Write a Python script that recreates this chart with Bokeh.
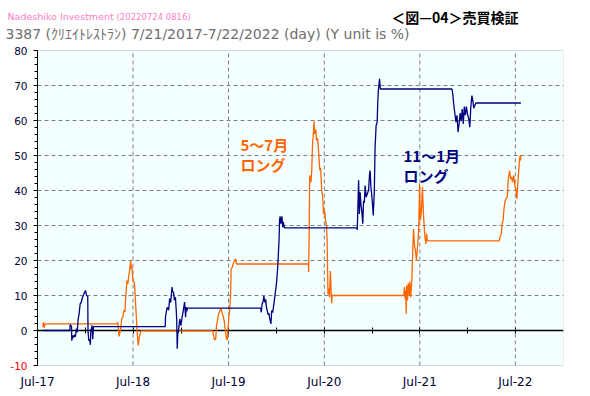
import pandas as pd
from bokeh.plotting import figure
from bokeh.models import (Range1d, DatetimeAxis, FixedTicker, SingleIntervalTicker,
                          DatetimeTickFormatter, Label, ColumnDataSource, BoxAnnotation)
from bokeh.embed import file_html
from bokeh.resources import INLINE

# ---------------- data ----------------
blue_dates = [
    "2017-07-21", "2017-11-01", "2017-11-03", "2017-11-08", "2017-11-09", "2017-11-13",
    "2017-11-16", "2017-11-20", "2017-11-23", "2017-11-26", "2017-11-30", "2017-12-03",
    "2017-12-07", "2017-12-11", "2017-12-15", "2017-12-20", "2017-12-24", "2017-12-27",
    "2018-01-01", "2018-01-04", "2018-01-09", "2018-01-10", "2018-01-13", "2018-01-16",
    "2018-01-19", "2018-01-21", "2018-01-23", "2018-01-25", "2018-01-28", "2018-01-31",
    "2018-11-01", "2018-11-02", "2018-11-07", "2018-11-10", "2018-11-14", "2018-11-18",
    "2018-11-22", "2018-11-27", "2018-11-30", "2018-12-03", "2018-12-06", "2018-12-10",
    "2018-12-13", "2018-12-15", "2018-12-17", "2018-12-19", "2018-12-21", "2018-12-27",
    "2018-12-31", "2019-01-05", "2019-01-08", "2019-01-14", "2019-01-18", "2019-01-20",
    "2019-01-23", "2019-01-25",
    "2019-11-01", "2019-11-03", "2019-11-06", "2019-11-10", "2019-11-13", "2019-11-17",
    "2019-11-20", "2019-11-23", "2019-11-26", "2019-11-29", "2019-12-02", "2019-12-05",
    "2019-12-10", "2019-12-13", "2019-12-17", "2019-12-23", "2019-12-27", "2019-12-31",
    "2020-01-05", "2020-01-08", "2020-01-10", "2020-01-12", "2020-01-14", "2020-01-17",
    "2020-01-21", "2020-01-24", "2020-01-26", "2020-01-31",
    "2020-11-02", "2020-11-04", "2020-11-09", "2020-11-12", "2020-11-15", "2020-11-18",
    "2020-11-21", "2020-11-25", "2020-11-28", "2020-12-01", "2020-12-04", "2020-12-08",
    "2020-12-12", "2020-12-17", "2020-12-21", "2020-12-23", "2020-12-26", "2020-12-29",
    "2021-01-02", "2021-01-04", "2021-01-08", "2021-01-11", "2021-01-15", "2021-01-19",
    "2021-01-21", "2021-01-24", "2021-01-28", "2021-01-31",
    "2021-11-01", "2021-11-04", "2021-11-07", "2021-11-12", "2021-11-16", "2021-11-20",
    "2021-11-24", "2021-11-28", "2021-12-02", "2021-12-06", "2021-12-10", "2021-12-14",
    "2021-12-18", "2021-12-22", "2021-12-26", "2021-12-30", "2022-01-04", "2022-01-08",
    "2022-01-12", "2022-01-16", "2022-01-19", "2022-01-23", "2022-01-31", "2022-07-22",
]
blue_values = [
    0.0, 0.0, 1.7, 1.2, -2.9, -1.4,
    -2.0, -1.2, -1.8, 0.5, -0.5, 3.0,
    4.8, 7.6, 8.0, 9.5, 10.2, 10.8,
    11.4, 10.0, 9.8, 0.0, -2.9, -2.5,
    -4.1, 0.5, -0.1, 1.5, -2.5, 1.1,
    1.1, 3.8, 6.2, 6.6, 5.8, 9.1,
    8.0, 12.4, 11.0, 10.9, 8.6, 9.5,
    6.0, 3.0, -5.2, -1.0, -0.5, 3.3,
    1.4, 4.0, 5.2, 8.1, 3.8, 6.7,
    5.5, 6.4,
    6.4, 5.2, 7.5, 8.2, 9.8, 8.0,
    8.9, 6.5, 5.7, 4.5, 5.0, 3.6,
    1.9, 5.7, 5.2, 8.6, 10.9, 13.3,
    18.1, 22.9, 25.7, 31.4, 32.6, 30.5,
    32.6, 29.5, 31.0, 29.3,
    29.3, 28.8, 42.9, 33.3, 39.5, 36.0,
    34.3, 30.5, 37.1, 36.5, 41.4, 38.1,
    39.0, 40.0, 44.8, 45.7, 41.0, 39.0,
    35.2, 32.9, 39.5, 52.4, 58.6, 59.5,
    64.8, 69.0, 71.9, 69.0,
    69.0, 67.5, 65.0, 61.9, 59.5, 61.5,
    56.7, 59.0, 62.1, 59.8, 63.3, 59.0,
    64.0, 61.5, 64.0, 61.9, 60.5, 58.1,
    64.0, 67.1, 66.0, 63.5, 65.0, 65.0,
]

orange_dates = [
    "2017-07-21", "2017-07-24", "2017-07-26", "2017-07-31",
    "2018-05-01", "2018-05-03", "2018-05-05", "2018-05-09", "2018-05-12", "2018-05-15",
    "2018-05-19", "2018-05-23", "2018-05-27", "2018-05-31", "2018-06-04", "2018-06-08",
    "2018-06-11", "2018-06-15", "2018-06-18", "2018-06-20", "2018-06-22", "2018-06-24",
    "2018-06-26", "2018-06-29", "2018-07-02", "2018-07-06", "2018-07-09", "2018-07-13",
    "2018-07-16", "2018-07-19", "2018-07-21", "2018-07-25", "2018-07-31",
    "2019-05-01", "2019-05-04", "2019-05-08", "2019-05-13", "2019-05-16", "2019-05-20",
    "2019-05-24", "2019-05-28", "2019-06-01", "2019-06-04", "2019-06-07", "2019-06-11",
    "2019-06-15", "2019-06-19", "2019-06-23", "2019-06-26", "2019-06-29", "2019-07-02",
    "2019-07-05", "2019-07-09", "2019-07-11", "2019-07-15", "2019-07-20", "2019-07-25",
    "2019-07-28", "2019-07-31",
    "2020-05-01", "2020-05-02", "2020-05-04", "2020-05-06", "2020-05-09", "2020-05-11",
    "2020-05-14", "2020-05-17", "2020-05-21", "2020-05-23", "2020-05-25", "2020-05-29",
    "2020-06-01", "2020-06-05", "2020-06-09", "2020-06-12", "2020-06-14", "2020-06-17",
    "2020-06-21", "2020-06-25", "2020-06-28", "2020-07-02", "2020-07-06", "2020-07-10",
    "2020-07-12", "2020-07-15", "2020-07-17", "2020-07-21", "2020-07-24", "2020-07-26",
    "2020-07-29", "2020-07-31",
    "2021-05-01", "2021-05-03", "2021-05-06", "2021-05-08", "2021-05-10", "2021-05-12",
    "2021-05-15", "2021-05-18", "2021-05-21", "2021-05-24", "2021-05-27", "2021-05-31",
    "2021-06-02", "2021-06-04", "2021-06-07", "2021-06-11", "2021-06-14", "2021-06-18",
    "2021-06-23", "2021-06-27", "2021-06-30", "2021-07-03", "2021-07-07", "2021-07-10",
    "2021-07-11", "2021-07-15", "2021-07-20", "2021-07-24", "2021-07-27", "2021-07-29",
    "2021-07-31",
    "2022-05-01", "2022-05-03", "2022-05-08", "2022-05-12", "2022-05-15", "2022-05-18",
    "2022-05-22", "2022-05-26", "2022-05-31", "2022-06-04", "2022-06-09", "2022-06-13",
    "2022-06-17", "2022-06-20", "2022-06-25", "2022-06-29", "2022-07-03", "2022-07-07",
    "2022-07-10", "2022-07-13", "2022-07-16", "2022-07-19", "2022-07-21", "2022-07-22",
]
orange_values = [
    1.0, 2.4, 0.8, 1.9,
    1.9, 2.4, 1.4, -1.7, -0.5, 0.5,
    3.3, 3.8, 5.7, 5.4, 10.5, 14.3,
    13.3, 15.7, 17.1, 18.6, 20.0, 17.6,
    18.6, 15.7, 13.8, 13.8, 10.5, 4.8,
    0.5, -2.4, -4.3, -1.9, -0.1,
    -0.1, -1.0, -2.7, -2.5, 1.4, 3.0,
    4.8, 5.5, 6.2, 5.9, 4.8, 4.0,
    2.5, 0.0, -2.4, -2.7, 0.5, 3.8,
    5.5, 10.5, 17.6, 18.0, 19.3, 20.0,
    20.5, 19.0,
    19.0, 16.7, 26.7, 43.8, 44.3, 42.4,
    45.7, 53.3, 57.1, 59.8, 56.2, 57.5,
    54.3, 55.0, 51.4, 47.6, 45.7, 46.5,
    40.0, 38.0, 33.3, 34.3, 31.4, 29.5,
    24.8, 10.3, 12.0, 9.5, 17.0, 14.0,
    7.8, 10.0,
    10.0, 12.4, 9.0, 11.4, 4.8, 12.9,
    8.6, 13.5, 10.0, 14.0, 9.5, 13.8,
    18.0, 22.9, 29.0, 24.0, 23.0, 20.0,
    24.7, 29.5, 41.9, 31.5, 34.0, 39.5,
    41.0, 33.0, 27.1, 24.7, 27.6, 26.0,
    25.6,
    25.6, 26.7, 27.6, 30.5, 31.4, 34.3,
    36.7, 37.6, 38.1, 43.3, 45.7, 43.3,
    43.8, 42.4, 44.3, 41.4, 40.5, 37.6,
    41.4, 44.8, 47.6, 50.0, 48.6, 50.0,
]

x_major_dates = ["2017-07-01", "2018-07-01", "2019-07-01", "2020-07-01", "2021-07-01", "2022-07-01"]
x_minor_dates = ["2018-01-01", "2019-01-01", "2020-01-01", "2021-01-01", "2022-01-01"]
x_start, x_end = "2017-07-01", "2023-01-01"
y_start, y_end = -10, 80
y_grid_values = [10, 20, 30, 40, 50, 60, 70]

title_1 = "Nadeshiko Investment"
title_1b = "(20220724 0816)"
title_2 = "3387 (ｸﾘｴｲﾄﾚｽﾄﾗﾝ) 7/21/2017-7/22/2022 (day)  (Y unit is %)"
title_r = "＜図—04＞売買検証"
note_orange = ["5〜7月", "ロング"]
note_blue = ["11〜1月", "ロング"]

# ---------------- layout ----------------
W, H = 590, 396
FL, FR, FT, FB = 37, 563, 50, 365   # page pixels of the chart box
FB_EXT = 373                        # frame extends a little below the box


def ms(d):
    return pd.Timestamp(d).value / 1e6


x0, x1 = ms(x_start), ms(x_end)
major_ms = [ms(d) for d in x_major_dates]
minor_ms = [ms(d) for d in x_minor_dates]

# the frame covers the title area too, so that texts there are not clipped
xr0 = x0 - FL / (FR - FL) * (x1 - x0)
yr1 = y_end + FT / (FB - FT) * (y_end - y_start)
yr0 = y_start - (FB_EXT - FB) / (FB - FT) * (y_end - y_start)


def xd(px):
    return x0 + (px - FL) / (FR - FL) * (x1 - x0)


def yd(py):
    return y_end - (py - FT) / (FB - FT) * (y_end - y_start)


p = figure(width=W, height=H, x_axis_type="datetime",
           x_range=Range1d(xr0, x1), y_range=Range1d(yr0, yr1),
           output_backend="svg", toolbar_location=None,
           min_border_left=0, min_border_right=W - FR, min_border_top=0,
           min_border_bottom=H - FB_EXT,
           background_fill_color="white", border_fill_color="white",
           outline_line_color=None)
p.xgrid.visible = False
p.ygrid.visible = False

# chart box
p.add_layout(BoxAnnotation(left=x0, right=x1, bottom=y_start, top=y_end,
                           fill_color="#F4FFFF", fill_alpha=1.0,
                           line_color="#808080", line_width=1, level="image"))

fmt = DatetimeTickFormatter(milliseconds="%b-%y", seconds="%b-%y", minsec="%b-%y",
                            minutes="%b-%y", hourmin="%b-%y", hours="%b-%y", days="%b-%y",
                            months="%b-%y", years="%b-%y")

# bottom axis: labels only
xa = p.xaxis[0]
xa.ticker = FixedTicker(ticks=major_ms, minor_ticks=[])
xa.formatter = fmt
xa.axis_line_color = None
xa.major_tick_line_color = None
xa.minor_tick_line_color = None
xa.major_tick_out = 0
xa.major_tick_in = 0
xa.major_label_standoff = 1
xa.major_label_text_font = "DejaVu Sans"
xa.major_label_text_font_size = "12px"
xa.major_label_text_color = "#000033"

# zero line axis with ticks (drawn under the series)
za = DatetimeAxis(fixed_location=0, bounds=(x0, x1),
                  ticker=FixedTicker(ticks=major_ms, minor_ticks=minor_ms),
                  formatter=fmt, axis_line_color="black", axis_line_width=1.5,
                  major_tick_line_color="black", minor_tick_line_color="black",
                  major_tick_in=3, major_tick_out=3, minor_tick_in=3, minor_tick_out=3,
                  major_label_text_color=None, level="underlay")
p.add_layout(za, "below")

ya = p.yaxis[0]
ya.fixed_location = x0
ya.bounds = (y_start, y_end)
ya.ticker = SingleIntervalTicker(interval=10, num_minor_ticks=5)
ya.major_label_overrides = {-10: ""}
ya.axis_line_color = "black"
ya.major_tick_line_color = "black"
ya.minor_tick_line_color = "black"
ya.major_tick_in = 0
ya.major_tick_out = 4
ya.minor_tick_in = 0
ya.minor_tick_out = 3
ya.major_label_standoff = 6
ya.major_label_text_font = "DejaVu Sans"
ya.major_label_text_font_size = "10.5px"
ya.major_label_text_color = "#000033"

# dashed grid
p.segment(x0=major_ms, y0=[y_start] * len(major_ms), x1=major_ms, y1=[y_end] * len(major_ms),
          line_color="#808080", line_dash="4 3", line_width=1, level="underlay")
p.segment(x0=[x0] * len(y_grid_values), y0=y_grid_values, x1=[x1] * len(y_grid_values),
          y1=y_grid_values, line_color="#808080", line_dash="4 3", line_width=1,
          level="underlay")

orange_src = ColumnDataSource(dict(x=pd.to_datetime(orange_dates), y=orange_values))
blue_src = ColumnDataSource(dict(x=pd.to_datetime(blue_dates), y=blue_values))
p.line("x", "y", source=orange_src, line_color="#FF6600", line_width=1.3)
p.line("x", "y", source=blue_src, line_color="#000080", line_width=1.3)

# red -10 tick label
p.add_layout(Label(x=x0, y=y_start, x_offset=-10, text="-10", text_align="right",
                   text_baseline="middle", text_color="red", text_font="DejaVu Sans",
                   text_font_size="10.5px"))

# titles
p.add_layout(Label(x=xd(7), y=yd(15.5), text=title_1, text_align="left", text_baseline="middle",
                   text_color="#FF80C0", text_font="DejaVu Sans", text_font_size="9.5px"))
p.add_layout(Label(x=xd(116), y=yd(16), text=title_1b, text_align="left", text_baseline="middle",
                   text_color="#FF80C0", text_font="DejaVu Sans", text_font_size="8.5px"))
p.add_layout(Label(x=xd(518), y=yd(16), text=title_r, text_align="right", text_baseline="middle",
                   text_color="black", text_font="Noto Sans CJK JP", text_font_style="bold",
                   text_font_size="14px"))
p.add_layout(Label(x=xd(5), y=yd(33), text=title_2, text_align="left", text_baseline="middle",
                   text_color="#6E6E6E", text_font="DejaVu Sans, Noto Sans CJK JP",
                   text_font_size="14px"))

# annotations
for i, t in enumerate(note_orange):
    p.add_layout(Label(x=xd(240), y=yd(144 + 19.7 * i), text=t, text_align="left",
                       text_baseline="middle", text_color="#FF6600",
                       text_font="Noto Sans CJK JP", text_font_style="bold",
                       text_font_size="15px"))
for i, t in enumerate(note_blue):
    p.add_layout(Label(x=xd(403), y=yd(154.5 + 20.5 * i), text=t, text_align="left",
                       text_baseline="middle", text_color="#000080",
                       text_font="Noto Sans CJK JP", text_font_style="bold",
                       text_font_size="15px"))

open("out.html", "w").write(file_html(p, INLINE))
